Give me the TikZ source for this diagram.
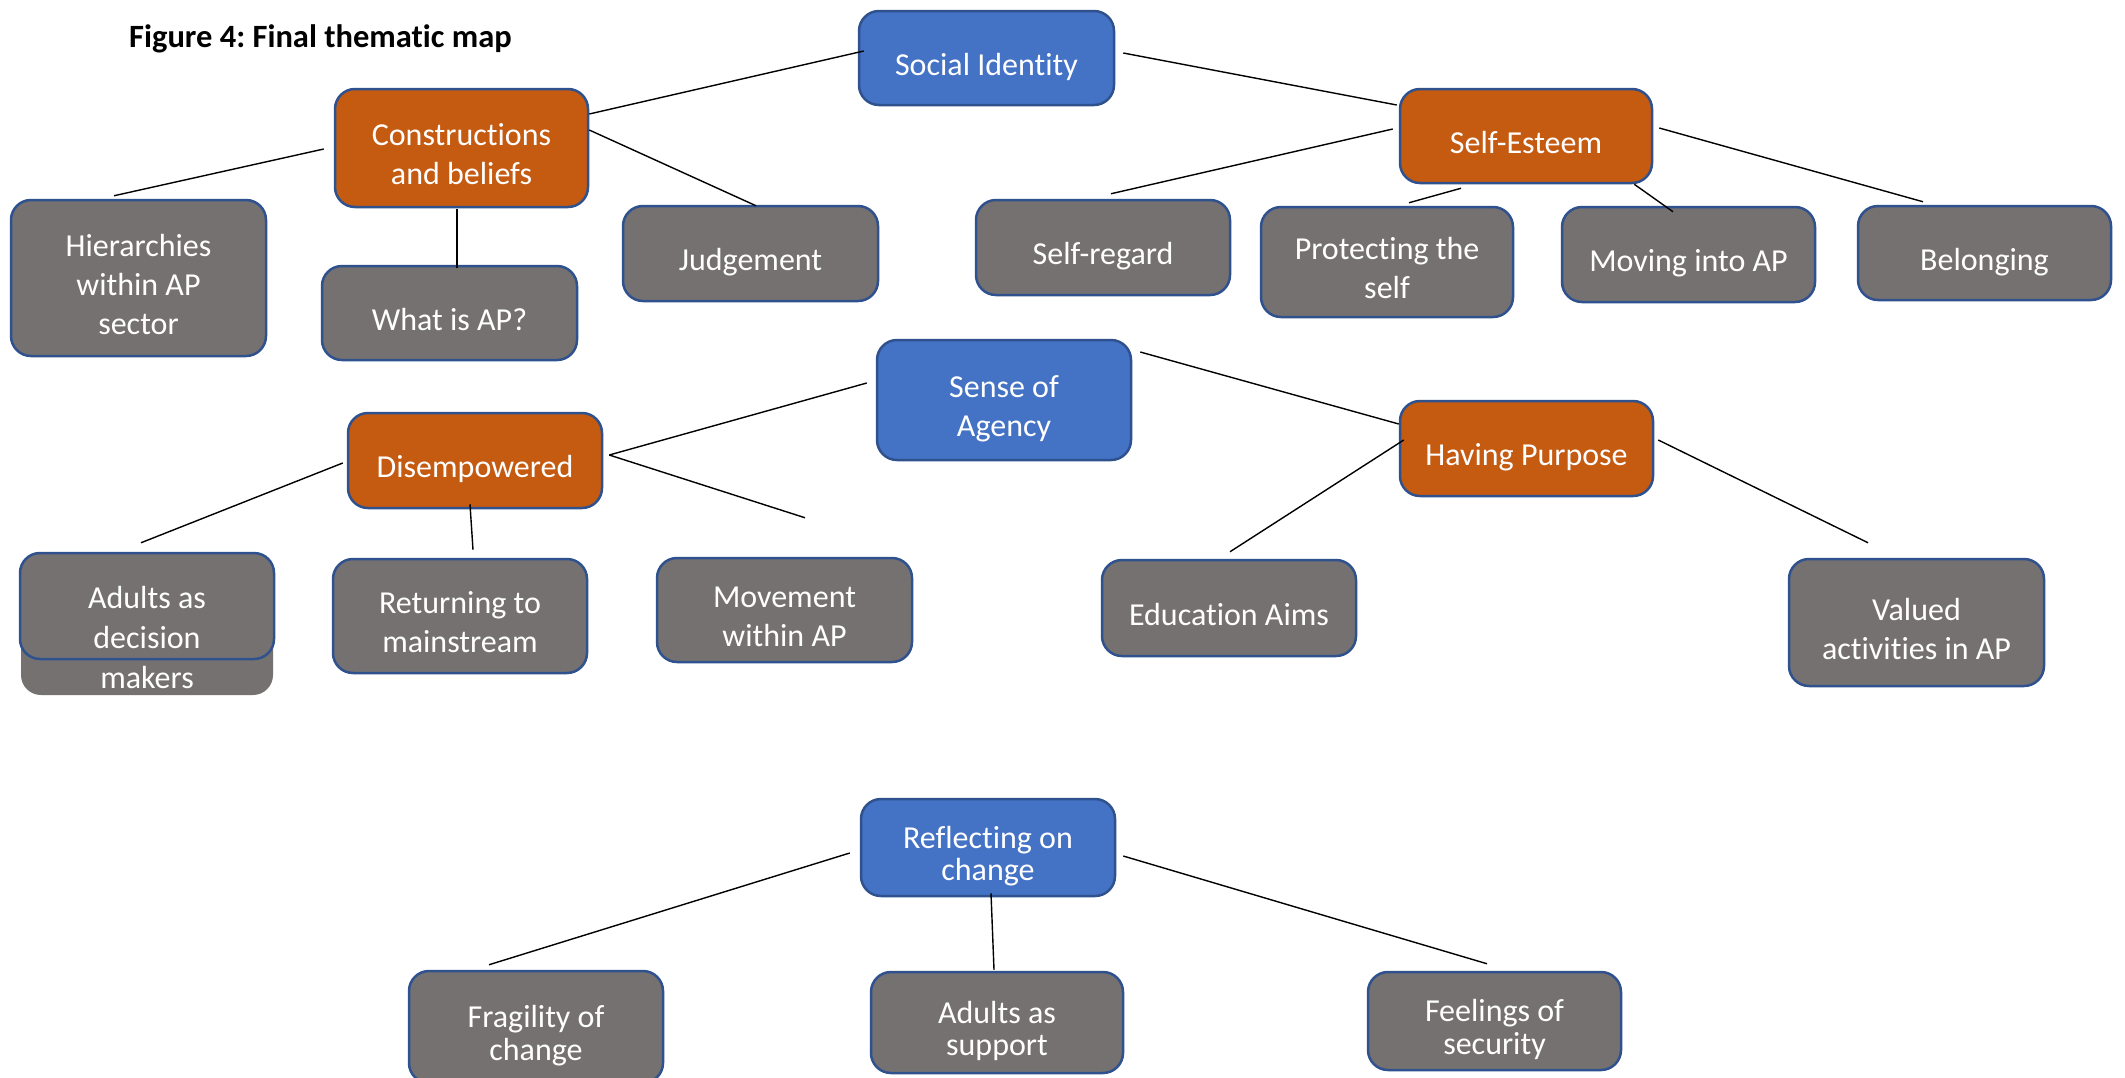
\documentclass[tikz,border=0pt]{standalone}
\usepackage{fontspec}
\setmainfont[Ligatures=NoCommon]{Carlito}
\usetikzlibrary{calc}
\frenchspacing
\definecolor{cblue}{HTML}{4472C4}
\definecolor{corange}{HTML}{C55A11}
\definecolor{cgrey}{HTML}{767171}
\definecolor{cborder}{HTML}{2F528F}
\newcommand\topst{\rule{0pt}{40pt}}
\newcommand\botst{\rule[-6pt]{0pt}{6pt}}
\tikzset{
  box/.style={rectangle, rounded corners=20pt, draw=cborder, line width=2.5pt, text=white,
    align=center, inner sep=0pt, font=\fontsize{32}{39}\selectfont},
  bluebox/.style={box, fill=cblue},
  orangebox/.style={box, fill=corange},
  greybox/.style={box, fill=cgrey},
  tightbox/.style={greybox, font=\fontsize{32}{32.5}\selectfont},
  link/.style={draw=black, line width=1.4pt},
}
\begin{document}
\begin{tikzpicture}[x=1pt,y=-1pt]
\useasboundingbox (0,0) rectangle (2125,1077);
\fill[white] (0,0) rectangle (2125,1077);

% title
\node[anchor=base west, inner sep=0pt, font=\fontsize{32.5}{38}\selectfont\bfseries] (title) at (129,47) {Figure 4: Final thematic map};

% top group
\node[bluebox, minimum width=255pt, minimum height=94pt] (soc) at (986.5,58) {\topst Social Identity\botst};
\node[orangebox, minimum width=253pt, minimum height=118pt] (cons) at (461.5,148) {\topst Constructions\\and beliefs\botst};
\node[orangebox, minimum width=252pt, minimum height=94pt] (selfe) at (1526,136) {\topst Self-Esteem\botst};
\node[greybox, minimum width=255pt, minimum height=156pt] (hier) at (138.5,278) {\topst Hierarchies\\within AP\\sector\botst};
\node[greybox, minimum width=255pt, minimum height=94pt] (what) at (449.5,313) {\topst What is AP?\botst};
\node[greybox, minimum width=255pt, minimum height=95pt] (judg) at (750.5,253.5) {\topst Judgement\botst};
\node[greybox, minimum width=254pt, minimum height=95pt] (sreg) at (1103,247.5) {\topst Self-regard\botst};
\node[greybox, minimum width=252pt, minimum height=110pt] (prot) at (1387,262) {\topst Protecting the\\self\botst};
\node[greybox, minimum width=253pt, minimum height=95pt] (mov) at (1688.5,254.5) {\topst Moving into AP\botst};
\node[greybox, minimum width=253pt, minimum height=94pt] (bel) at (1984.5,253) {\topst Belonging\botst};

% middle group
\node[bluebox, minimum width=254pt, minimum height=120pt] (soa) at (1004,400) {\topst Sense of\\Agency\botst};
\node[orangebox, minimum width=254pt, minimum height=95pt] (disemp) at (475,460.5) {\topst Disempowered\botst};
\node[orangebox, minimum width=253pt, minimum height=95pt] (hp) at (1526.5,448.5) {\topst Having Purpose\botst};
\node[rectangle, rounded corners=20pt, fill=cgrey, minimum width=252pt, minimum height=142pt] (adecbg) at (147,624) {};
\node[rectangle, rounded corners=20pt, draw=cborder, line width=2.5pt, fill=cgrey, minimum width=254pt, minimum height=106pt] (adec) at (147,606) {};
\node[text=white, align=center, inner sep=0pt, font=\fontsize{32}{40}\selectfont] (adectext) at (147,637) {Adults as\\decision\\makers};
\node[greybox, minimum width=254pt, minimum height=114pt] (ret) at (460,616) {\topst Returning to\\mainstream\botst};
\node[greybox, minimum width=255pt, minimum height=104pt] (movw) at (784.5,610) {\topst Movement\\within AP\botst};
\node[greybox, minimum width=254pt, minimum height=96pt] (edu) at (1229,608) {\topst Education Aims\botst};
\node[greybox, minimum width=255pt, minimum height=127pt] (val) at (1916.5,622.5) {\topst Valued\\activities in AP\botst};

% bottom group
\node[bluebox, minimum width=254pt, minimum height=97pt, font=\fontsize{32}{32.5}\selectfont] (refl) at (988,847.5) {\topst Reflecting on\\change\botst};
\node[tightbox, minimum width=254pt, minimum height=112pt] (frag) at (536,1027) {\topst Fragility of\\change\botst};
\node[tightbox, minimum width=252pt, minimum height=101pt] (asup) at (997,1022.5) {\topst Adults as\\support\botst};
\node[tightbox, minimum width=253pt, minimum height=98pt] (feel) at (1494.5,1021) {\topst Feelings of\\security\botst};

% connectors
\draw[link] ($(soc.west)+(6,-7)$) -- ($(cons.east)+(0,-34)$);
\draw[link] ($(soc.east)+(8,-5)$) -- ($(selfe.west)+(-2,-31)$);
\draw[link] ($(cons.west)+(-10,1)$) -- ($(hier.north)+(-24.5,-3)$);
\draw[link] ($(cons.south)+(-4.5,1)$) -- ($(what.north)+(7.5,3)$);
\draw[link] ($(cons.east)+(0,-18)$) -- ($(judg.north)+(5.5,1)$);
\draw[link] ($(selfe.west)+(-6,-7)$) -- ($(sreg.north)+(8,-5)$);
\draw[link] ($(selfe.south)+(-65,4)$) -- ($(prot.north)+(22,-3)$);
\draw[link] ($(selfe.south east)+(-19,0)$) -- ($(mov.north)+(-15.5,6)$);
\draw[link] ($(selfe.east)+(6,-8)$) -- ($(bel.north)+(-61.5,-3)$);

\draw[link] ($(soa.west)+(-9,-17)$) -- ($(disemp.east)+(6,-5.5)$);
\draw[link] ($(disemp.east)+(6,-5.5)$) -- ($(movw.north)+(20.5,-39)$);
\draw[link] ($(disemp.west)+(-4,2.5)$) -- ($(adec.north)+(-6,-9)$);
\draw[link] ($(disemp.south)+(-5,-5)$) -- ($(ret.north)+(13,-8)$);
\draw[link] ($(soa.east)+(8,-48)$) -- ($(hp.west)+(0,-24.5)$);
\draw[link] ($(hp.west)+(5,-8.5)$) -- ($(edu.north)+(1,-7)$);
\draw[link] ($(hp.east)+(4,-8.5)$) -- ($(val.north)+(-48.5,-15)$);

\draw[link] ($(refl.west)+(-10,5.5)$) -- ($(frag.north)+(-47,-5)$);
\draw[link] ($(refl.south)+(3,-4)$) -- ($(asup.north)+(-3,-1)$);
\draw[link] ($(refl.east)+(7,8.5)$) -- ($(feel.north)+(-7.5,-7)$);
\end{tikzpicture}
\end{document}
